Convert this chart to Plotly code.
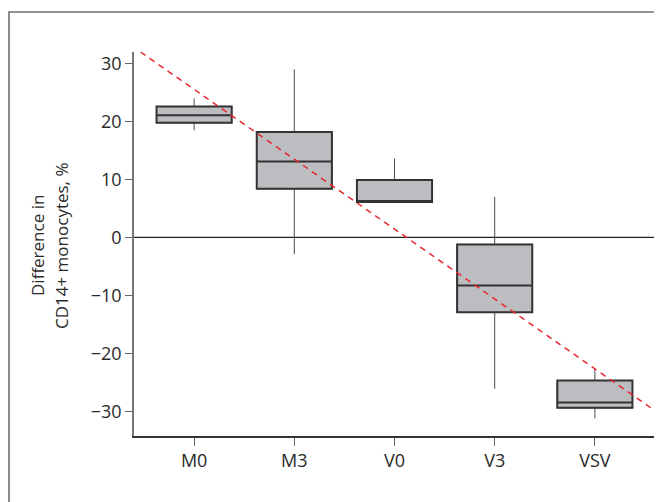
import plotly.graph_objects as go

# ---- data ----
categories = ["M0", "M3", "V0", "V3", "VSV"]
lower_whisker = [18.5, -2.9, 6.1, -26.1, -31.2]
q1_values = [19.8, 8.4, 6.1, -12.9, -29.4]
median_values = [21.1, 13.1, 6.1, -8.3, -28.5]
q3_values = [22.6, 18.2, 9.9, -1.2, -24.7]
upper_whisker = [24.0, 29.0, 13.6, 7.0, -22.7]
trend_x = [-0.535, 4.6]
trend_y = [32.0, -29.9]
y_ticks = [-30, -20, -10, 0, 10, 20, 30]
y_title_lines = ["Difference in", "CD14+ monocytes, %"]

# page has an 8px body margin, so the figure is shifted by 8px
OFF = 8
W, H = 662 - OFF, 502 - OFF
ML, MT = 134 - OFF, 52 - OFF
MR = W - (655 - OFF)
MB = H - (436 - OFF)
pw, ph = W - ML - MR, H - MT - MB

xpos = list(range(len(categories)))
FONT = "Open Sans"
TXT = "#2a2a2a"

fig = go.Figure()

# whiskers (thin)
fig.add_trace(go.Box(
    x=xpos, q1=q1_values, median=median_values, q3=q3_values,
    lowerfence=lower_whisker, upperfence=upper_whisker,
    width=0.75, whiskerwidth=0, fillcolor="#bcbdc0",
    line=dict(color="#4a4a4a", width=1), boxpoints=False,
    hoverinfo="skip", showlegend=False,
))
# boxes (thicker outline)
fig.add_trace(go.Box(
    x=xpos, q1=q1_values, median=median_values, q3=q3_values,
    lowerfence=q1_values, upperfence=q3_values,
    width=0.75, whiskerwidth=0, fillcolor="#bcbdc0",
    line=dict(color="#333333", width=2), boxpoints=False,
    hoverinfo="skip", showlegend=False,
))
# trend line
fig.add_trace(go.Scatter(
    x=trend_x, y=trend_y, mode="lines",
    line=dict(color="#e8262e", width=1.5, dash="6px,5px"),
    hoverinfo="skip", showlegend=False,
))

# zero reference line
fig.add_shape(type="line", xref="paper", yref="y", x0=0, x1=1, y0=0, y1=0,
              line=dict(color="#222222", width=1.3), layer="below")

# outer frame (extends beyond the page at right and bottom)
fx0 = (9 - OFF - ML) / pw
fy1 = 1 + (MT - (12 - OFF)) / ph
fig.add_shape(type="rect", xref="paper", yref="paper",
              x0=fx0, x1=1.2, y0=-0.5, y1=fy1,
              line=dict(color="#707070", width=1.6), fillcolor="rgba(0,0,0,0)")

# y-axis title as two rotated lines
title_page_x = [37, 61]
title_page_y = 246
for line_text, px in zip(y_title_lines, title_page_x):
    fig.add_annotation(
        text=line_text, xref="paper", yref="paper",
        x=(px - OFF - ML) / pw, y=1 - (title_page_y - OFF - MT) / ph,
        xanchor="center", yanchor="middle", textangle=-90, showarrow=False,
        font=dict(size=17, family=FONT, color=TXT),
    )

fig.update_layout(
    width=W, height=H,
    margin=dict(l=ML, r=MR, t=MT, b=MB, pad=0),
    paper_bgcolor="white", plot_bgcolor="white",
    boxmode="overlay",
    font=dict(family=FONT, size=17, color=TXT),
    xaxis=dict(
        range=[-0.6, 4.6], tickvals=xpos, ticktext=categories,
        showgrid=False, zeroline=False, showline=True, linecolor="#333333", linewidth=1.5,
        ticks="outside", ticklen=8, tickwidth=1.3, tickcolor="#666666",
        tickfont=dict(size=18, family=FONT, color=TXT),
    ),
    yaxis=dict(
        range=[-34.26, 32.0], tickvals=y_ticks,
        ticktext=[("\u2212" + str(abs(v))) if v < 0 else str(v) for v in y_ticks],
        showgrid=False, zeroline=False, showline=True, linecolor="#777777", linewidth=1.5,
        ticks="outside", ticklen=7, tickwidth=1.3, tickcolor="#666666",
        tickfont=dict(size=18, family=FONT, color=TXT),
    ),
)

fig.write_html("out.html")
